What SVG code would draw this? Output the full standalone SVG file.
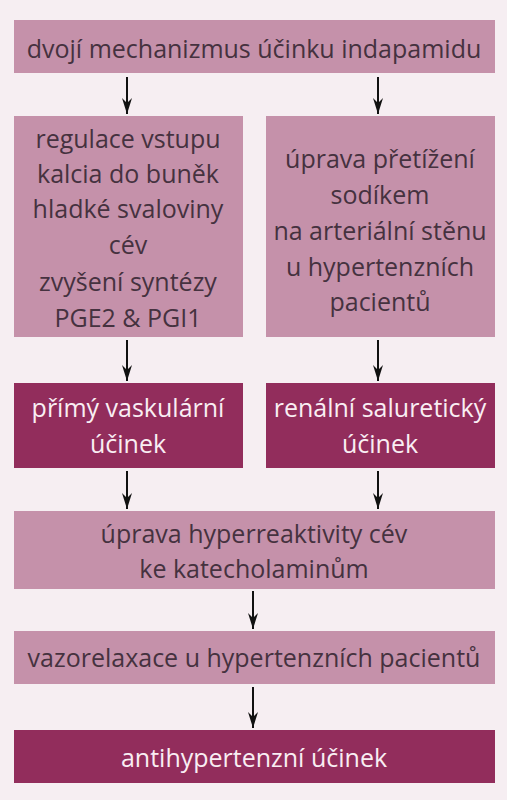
<svg xmlns="http://www.w3.org/2000/svg" width="507" height="800" viewBox="0 0 507 800">
<defs>
<style>
.bg{fill:#f6eef2}
.lt{fill:#c591aa}
.dk{fill:#922d5c}
.t{font-family:"Open Sans","Noto Sans",sans-serif;font-size:25px;text-anchor:middle}
.td{fill:#45323f}
.tw{fill:#f9eef3}
.c{stroke:#111;stroke-width:2;fill:none}
</style>
<marker id="ah" viewBox="0 0 16 10" markerWidth="16" markerHeight="11" refX="16" refY="5" orient="auto" markerUnits="userSpaceOnUse">
<path d="M0,0 L16,5 L0,10 L5,5 z" fill="#111"/>
</marker>
</defs>
<rect class="bg" x="0" y="0" width="507" height="800"/>
<g id="n1">
<rect class="lt" x="14" y="20" width="481" height="53"/>
<text class="t td" x="254" y="58">dvojí mechanizmus účinku indapamidu</text>
</g>
<g id="n2">
<rect class="lt" x="14" y="116" width="229" height="221"/>
<text class="t td" x="128" y="148">regulace vstupu</text>
<text class="t td" x="128" y="183">kalcia do buněk</text>
<text class="t td" x="128" y="218">hladké svaloviny</text>
<text class="t td" x="128" y="254">cév</text>
<text class="t td" x="128" y="291">zvyšení syntézy</text>
<text class="t td" x="128" y="327">PGE2 &amp; PGI1</text>
</g>
<g id="n3">
<rect class="lt" x="266" y="116" width="229" height="221"/>
<text class="t td" x="380" y="168">úprava přetížení</text>
<text class="t td" x="380" y="204">sodíkem</text>
<text class="t td" x="380" y="240">na arteriální stěnu</text>
<text class="t td" x="380" y="276">u hypertenzních</text>
<text class="t td" x="380" y="311">pacientů</text>
</g>
<g id="n4">
<rect class="dk" x="14" y="383" width="229" height="85"/>
<text class="t tw" x="128" y="417">přímý vaskulární</text>
<text class="t tw" x="128" y="453">účinek</text>
</g>
<g id="n5">
<rect class="dk" x="266" y="383" width="229" height="85"/>
<text class="t tw" x="380" y="417">renální saluretický</text>
<text class="t tw" x="380" y="453">účinek</text>
</g>
<g id="n6">
<rect class="lt" x="14" y="511" width="481" height="78"/>
<text class="t td" x="254" y="543">úprava hyperreaktivity cév</text>
<text class="t td" x="254" y="578">ke katecholaminům</text>
</g>
<g id="n7">
<rect class="lt" x="14" y="631" width="481" height="53"/>
<text class="t td" x="254" y="667">vazorelaxace u hypertenzních pacientů</text>
</g>
<g id="n8">
<rect class="dk" x="14" y="730" width="481" height="53"/>
<text class="t tw" x="254" y="767">antihypertenzní účinek</text>
</g>
<g id="connectors">
<line class="c" x1="127" y1="77" x2="127" y2="114" marker-end="url(#ah)"/>
<line class="c" x1="378" y1="77" x2="378" y2="114" marker-end="url(#ah)"/>
<line class="c" x1="127" y1="340" x2="127" y2="381" marker-end="url(#ah)"/>
<line class="c" x1="378" y1="340" x2="378" y2="381" marker-end="url(#ah)"/>
<line class="c" x1="127" y1="471" x2="127" y2="509" marker-end="url(#ah)"/>
<line class="c" x1="378" y1="471" x2="378" y2="509" marker-end="url(#ah)"/>
<line class="c" x1="253" y1="591" x2="253" y2="629" marker-end="url(#ah)"/>
<line class="c" x1="253" y1="687" x2="253" y2="728" marker-end="url(#ah)"/>
</g>
</svg>
